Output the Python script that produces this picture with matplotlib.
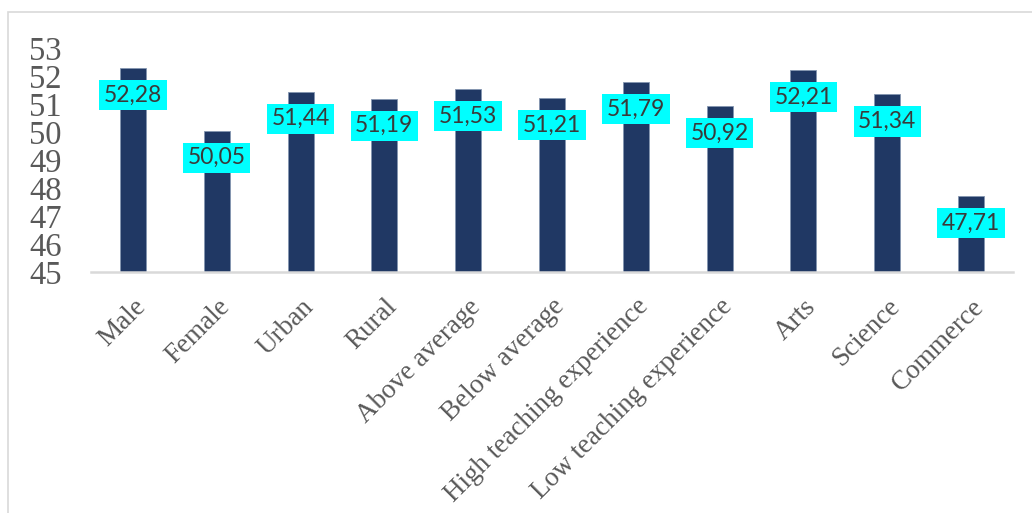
import matplotlib
matplotlib.use('Agg')
import matplotlib.pyplot as plt
from matplotlib.patches import Rectangle
import numpy as np

categories = ['Male', 'Female', 'Urban', 'Rural', 'Above average', 'Below average',
              'High teaching experience', 'Low teaching experience', 'Arts',
              'Science', 'Commerce']
scores = [52.28, 50.05, 51.44, 51.19, 51.53, 51.21, 51.79, 50.92, 52.21, 51.34, 47.71]
y_ticks = [45, 46, 47, 48, 49, 50, 51, 52, 53]

SERIF = ['Liberation Serif', 'DejaVu Serif']


def main():
    plt.rcParams['font.family'] = 'serif'
    plt.rcParams['font.serif'] = SERIF

    fig = plt.figure(figsize=(10.32, 5.13), dpi=100)
    ax = fig.add_axes([0.0882, 0.4698, 0.8934, 0.4366])

    # light frame around the chart area (only top/left visible in the crop)
    fig.patches.append(Rectangle((0.00775, -0.1), 1.2, 1.0766, transform=fig.transFigure,
                                 fill=False, edgecolor='#D9D9D9', linewidth=1.2))

    x = np.arange(len(categories))
    ax.bar(x, scores, width=0.31, color='#203864', edgecolor='#8496B0', linewidth=0.6)

    for xi, v in zip(x, scores):
        ax.annotate(f'{v:.2f}'.replace('.', ','), (xi, v), xytext=(0, -19.5),
                    textcoords='offset points', ha='center', va='center',
                    fontsize=16.5, family=['Lato', 'DejaVu Sans'], color='#3A3A3A',
                    bbox=dict(boxstyle='square,pad=0.2', facecolor='#00FFFF', edgecolor='none'))

    ax.set_xlim(-0.5, len(categories) - 0.5)
    ax.set_ylim(45, 53)
    ax.set_yticks(y_ticks)
    ax.set_yticklabels([str(t) for t in y_ticks], fontsize=23.5, color='#595959')
    ax.set_xticks(x)
    ax.set_xticklabels(categories, rotation=45, ha='right', rotation_mode='anchor',
                       fontsize=19.5, color='#595959')
    ax.tick_params(axis='both', length=0)
    ax.tick_params(axis='y', pad=21)
    ax.tick_params(axis='x', pad=16)

    for side in ['top', 'right', 'left']:
        ax.spines[side].set_visible(False)
    ax.spines['bottom'].set_color('#D9D9D9')
    ax.spines['bottom'].set_linewidth(1.8)

    fig.savefig('out.png', dpi=100)


if __name__ == '__main__':
    main()
